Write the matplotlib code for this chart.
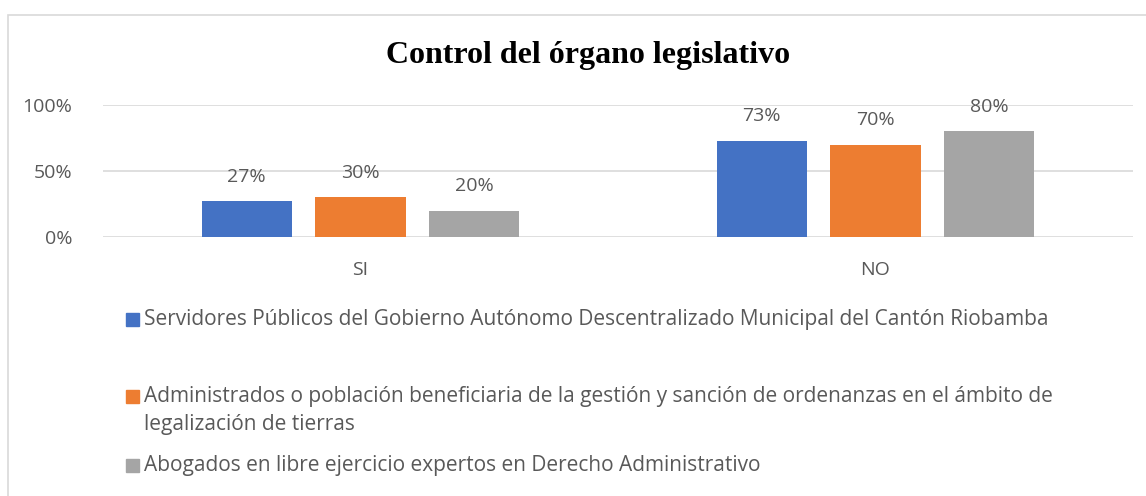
import matplotlib
matplotlib.use("Agg")
import matplotlib.pyplot as plt
from matplotlib.patches import Rectangle
import numpy as np

# ─────────────────────────────────────────────────────────────
#  Data
# ─────────────────────────────────────────────────────────────
categories = ["SI", "NO"]
series_names = [
    "Servidores Públicos del Gobierno Autónomo Descentralizado Municipal del Cantón Riobamba",
    "Administrados o población beneficiaria de la gestión y sanción de ordenanzas en el ámbito de\nlegalización de tierras",
    "Abogados en libre ejercicio expertos en Derecho Administrativo",
]
servidores = [0.27, 0.73]
administrados = [0.30, 0.70]
abogados = [0.20, 0.80]
yticks = [0, 0.5, 1.0]
ytick_labels = ["0%", "50%", "100%"]
colors = ["#4472C4", "#ED7D31", "#A5A5A5"]

W, H = 1146, 496
fig = plt.figure(figsize=(W / 100, H / 100), dpi=100)
plt.rcParams["font.family"] = ["Open Sans", "DejaVu Sans"]

# chart frame (runs off the right/bottom edge like the source)
fig.patches.append(Rectangle((8 / W, -0.05), 1.1, 1 - 15 / H + 0.05,
                             transform=fig.transFigure, fill=False,
                             edgecolor="#D9D9D9", linewidth=1.2))

ax = fig.add_axes([103 / W, 1 - 237 / H, 1030 / W, 132 / H])
x = np.arange(len(categories))
bw, step = 0.175, 0.221
txt_color = "#595959"

for i, vals in enumerate([servidores, administrados, abogados]):
    bars = ax.bar(x + (i - 1) * step, vals, width=bw, color=colors[i], zorder=3)
    for b, v in zip(bars, vals):
        ax.text(b.get_x() + b.get_width() / 2, v + 0.115, f"{v:.0%}",
                ha="center", va="bottom", fontsize=14, color=txt_color,
                clip_on=False)

ax.set_xlim(-0.5, 1.5)
ax.set_ylim(0, 1.0)
ax.set_yticks(yticks)
ax.set_yticklabels(ytick_labels, fontsize=14, color=txt_color)
ax.set_xticks(x)
ax.set_xticklabels(categories, fontsize=14, color=txt_color)
ax.tick_params(length=0, pad=22)
ax.tick_params(axis="x", pad=17)
ax.grid(axis="y", color="#D9D9D9", linewidth=1.2, zorder=0)
for s in ax.spines.values():
    s.set_visible(False)

fig.text(588 / W, 1 - 56 / H, "Control del órgano legislativo",
         family="Liberation Serif", fontweight="bold", fontsize=23,
         ha="center", va="center")

# legend
leg_y = [320, 397, 466]
for i, (name, y) in enumerate(zip(series_names, leg_y)):
    fig.patches.append(Rectangle((126 / W, 1 - (y + 6) / H), 13 / W, 13 / H,
                                 transform=fig.transFigure, color=colors[i]))
    fig.text(144 / W, 1 - (y - 11) / H, name, fontsize=15, color=txt_color,
             ha="left", va="top", linespacing=1.45)

fig.savefig("out.png", dpi=100)
